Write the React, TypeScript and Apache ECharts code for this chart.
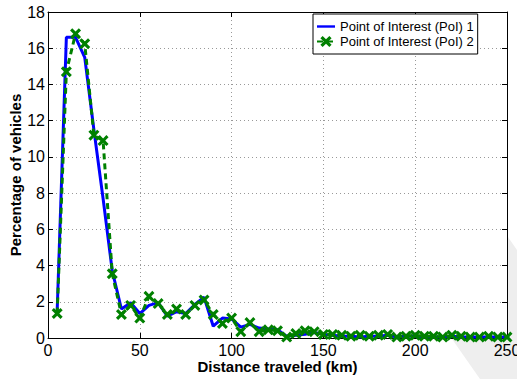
import React, { useEffect, useRef } from "react";
import * as echarts from "echarts";

const distances = [
  5, 10, 15, 20, 25, 30, 35, 40, 45, 50, 55, 60, 65, 70, 75, 80, 85, 90, 95, 100,
  105, 110, 115, 120, 125, 130, 135, 140, 145, 150, 155, 160, 165, 170, 175, 180,
  185, 190, 195, 200, 205, 210, 215, 220, 225, 230, 235, 240, 245, 250,
];

const poi1 = [
  1.5, 16.6, 16.6, 15.5, 11.5, 7.7, 3.7, 1.6, 1.95, 1.35, 1.8, 1.95, 1.2, 1.45, 1.35,
  1.85, 2.25, 0.65, 1.1, 1.05, 0.6, 0.75, 0.55, 0.5, 0.45, 0.1, 0.15, 0.2, 0.3, 0.2,
  0.15, 0.1, 0.1, 0.05, 0.1, 0.1, 0.15, 0.05, 0.1, 0.1, 0.05, 0.05, 0.05, 0.1, 0.05,
  0.05, 0.05, 0.05, 0.05, 0.05,
];

const poi2 = [
  1.35, 14.7, 16.8, 16.25, 11.2, 10.9, 3.55, 1.3, 1.8, 1.1, 2.3, 1.9, 1.3, 1.6, 1.3,
  1.8, 2.1, 1.3, 0.8, 1.1, 0.35, 0.85, 0.35, 0.45, 0.4, 0.05, 0.25, 0.4, 0.35, 0.2,
  0.2, 0.15, 0.1, 0.15, 0.1, 0.15, 0.2, 0.05, 0.1, 0.15, 0.1, 0.1, 0.05, 0.15, 0.1,
  0.05, 0.05, 0.1, 0.05, 0.05,
];

const seriesNames = ["Point of Interest (PoI) 1", "Point of Interest (PoI) 2"];
const xTicks = [0, 50, 100, 150, 200, 250];
const yTicks = [0, 2, 4, 6, 8, 10, 12, 14, 16, 18];

const FONT = "'Liberation Sans', Arial, Helvetica, sans-serif";
const X_PATH =
  "path://M0,2 L2,0 L5,3 L8,0 L10,2 L7,5 L10,8 L8,10 L5,7 L2,10 L0,8 L3,5 Z";

export default function App() {
  const ref = useRef<HTMLDivElement>(null);

  useEffect(() => {
    if (!ref.current) return;
    const chart = echarts.init(ref.current, undefined, { renderer: "svg" });

    const gridLine = { show: true, lineStyle: { color: "#999", type: [1, 3] as any, width: 1 } };
    const tick = { show: true, inside: true, length: 5, lineStyle: { color: "#000" } };
    const axisLine = { show: true, onZero: false, lineStyle: { color: "#000", width: 1 } };

    chart.setOption({
      animation: false,
      backgroundColor: "#fff",
      textStyle: { fontFamily: FONT },
      graphic: [
        {
          type: "polygon",
          z: -10,
          silent: true,
          shape: {
            points: [
              [508, 237],
              [517, 250],
              [517, 379],
              [480, 379],
              [452, 339],
              [508, 339],
            ],
          },
          style: { fill: "#eeeeee" },
        },
      ],
      grid: {
        left: 48,
        right: 10,
        top: 12,
        bottom: 41,
        containLabel: false,
        outerBoundsMode: "none",
      },
      legend: {
        data: [
          { name: seriesNames[0], icon: "path://M0,0 L30,0 L30,4 L0,4 Z" },
          { name: seriesNames[1] },
        ],
        orient: "vertical",
        left: 313,
        top: 14,
        padding: [6, 4, 6, 3],
        itemGap: 2,
        itemWidth: 18,
        itemHeight: 14,
        backgroundColor: "#fff",
        borderColor: "#000",
        borderWidth: 1,
        borderRadius: 0,
        textStyle: { fontSize: 13, color: "#000", fontFamily: FONT },
      },
      xAxis: [
        {
          type: "value",
          min: xTicks[0],
          max: xTicks[xTicks.length - 1],
          interval: 50,
          position: "bottom",
          name: "Distance traveled (km)",
          nameLocation: "middle",
          nameGap: 21,
          nameMoveOverlap: false,
          nameTextStyle: { fontSize: 15, fontWeight: "bold", color: "#000", fontFamily: FONT },
          axisLine,
          axisTick: tick,
          axisLabel: { fontSize: 16, color: "#000", margin: 4, fontFamily: FONT },
          splitLine: gridLine,
        },
        {
          type: "value",
          min: xTicks[0],
          max: xTicks[xTicks.length - 1],
          interval: 50,
          position: "top",
          axisLine,
          axisTick: tick,
          axisLabel: { show: false },
          splitLine: { show: false },
        },
      ],
      yAxis: [
        {
          type: "value",
          min: yTicks[0],
          max: yTicks[yTicks.length - 1],
          interval: 2,
          position: "left",
          name: "Percentage of vehicles",
          nameLocation: "middle",
          nameGap: 25,
          nameMoveOverlap: false,
          nameTextStyle: { fontSize: 15, fontWeight: "bold", color: "#000", fontFamily: FONT },
          axisLine,
          axisTick: tick,
          axisLabel: { fontSize: 16, color: "#000", margin: 3, fontFamily: FONT },
          splitLine: gridLine,
        },
        {
          type: "value",
          min: yTicks[0],
          max: yTicks[yTicks.length - 1],
          interval: 2,
          position: "right",
          axisLine,
          axisTick: tick,
          axisLabel: { show: false },
          splitLine: { show: false },
        },
      ],
      series: [
        {
          name: seriesNames[0],
          type: "line",
          data: distances.map((d, i) => [d, poi1[i]]),
          showSymbol: false,
          symbol: "none",
          lineStyle: { color: "#0000ff", width: 3 },
          itemStyle: { color: "#0000ff" },
          z: 2,
        },
        {
          name: seriesNames[1],
          type: "line",
          data: distances.map((d, i) => [d, poi2[i]]),
          symbol: X_PATH,
          symbolSize: 11,
          showSymbol: true,
          lineStyle: { color: "#008000", width: 3, type: [6, 4] as any },
          itemStyle: { color: "#008000" },
          z: 3,
        },
      ],
    });

    return () => chart.dispose();
  }, []);

  return (
    <div
      ref={ref}
      style={{ position: "fixed", left: 0, top: 0, width: 517, height: 379 }}
    />
  );
}
